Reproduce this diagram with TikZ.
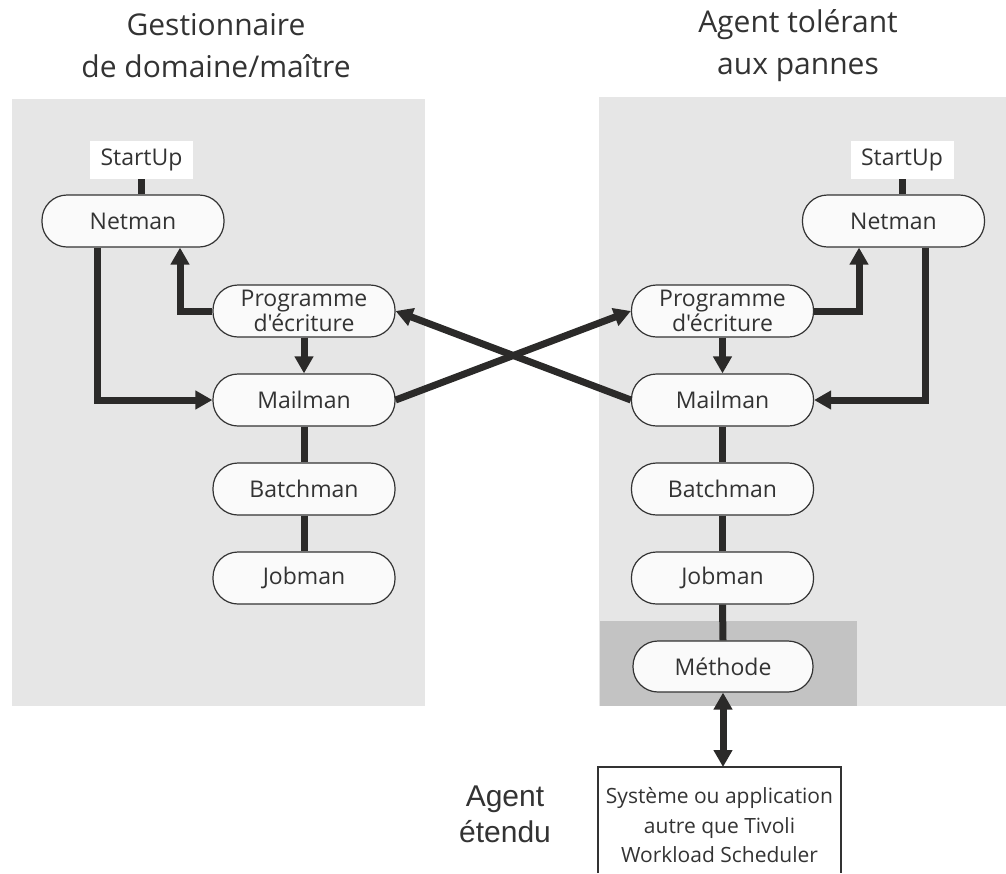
\documentclass[tikz,border=0pt]{standalone}
\usepackage{fontspec}
\setmainfont{Open Sans}[Ligatures=TeXOff]
\newfontfamily\arialfont{Liberation Sans}
\usetikzlibrary{arrows.meta}
\definecolor{panel}{HTML}{E6E6E6}
\definecolor{band}{HTML}{C3C3C3}
\definecolor{ink}{HTML}{2B2A29}
\definecolor{nodeline}{HTML}{333333}
\definecolor{nodefill}{HTML}{FAFAFA}
\definecolor{txt}{HTML}{333333}

\begin{document}
\begin{tikzpicture}[x=1pt,y=-1pt,
  proc/.style={draw=nodeline, line width=1.2pt, fill=nodefill, rounded corners=25pt,
    minimum width=182pt, minimum height=52pt, inner sep=0pt, text=txt,
    font=\fontsize{23}{25}\selectfont, align=center},
  start/.style={fill=white, minimum width=103pt, minimum height=38pt, inner sep=0pt,
    text=txt, font=\fontsize{23}{25}\selectfont},
  link/.style={draw=ink, line width=7pt},
  arrow/.style={link, -{Triangle[length=17pt,width=18pt]}},
  both/.style={link, {Triangle[length=17pt,width=18pt]}-{Triangle[length=17pt,width=18pt]}},
  title/.style={align=center, text=txt, font=\fontsize{30}{42}\selectfont}
]
\useasboundingbox (0,0) rectangle (1006,873);

% panels
\fill[panel] (12,99) rectangle (425,706);
\fill[panel] (599,97) rectangle (1006,706);
\fill[band] (600,621) rectangle (857,706);

% titles
\node[title] (tl) at (216,46) {Gestionnaire\\de domaine/maître};
\node[title] (tr) at (798,46) {Agent tolérant\\aux pannes};

% domain manager / master
\node[start] (LS) at (141.5,160) {StartUp};
\node[proc] (LN) at (133,221) {Netman};
\node[proc] (LP) at (304,311) {Programme\\d'écriture};
\node[proc] (LM) at (304,400) {Mailman};
\node[proc] (LB) at (304,489) {Batchman};
\node[proc] (LJ) at (304,578) {Jobman};

% fault-tolerant agent
\node[start] (RS) at (902,160) {StartUp};
\node[proc] (RN) at (893.5,221) {Netman};
\node[proc] (RP) at (722.5,311) {Programme\\d'écriture};
\node[proc] (RM) at (722.5,400) {Mailman};
\node[proc] (RB) at (722.5,489) {Batchman};
\node[proc] (RJ) at (722.5,578) {Jobman};
\node[proc, minimum width=180pt, minimum height=51pt] (RX) at (723,666.5) {Méthode};

% extended agent
\node[align=center, text=txt, font=\arialfont\fontsize{30}{36}\selectfont] (ext) at (505,814) {Agent\\étendu};
\node[align=center, text=txt, font=\fontsize{21}{29.5}\selectfont] (SYS) at (719.5,825.5)
  {Système ou application\\autre que Tivoli\\Workload Scheduler};
\coordinate (sysnw) at (598,767);
\coordinate (sysne) at (841,767);
\coordinate (syssw) at (598,873);
\coordinate (sysse) at (841,873);
\draw[nodeline, line width=1.2pt] (syssw) -- (sysnw) -- (sysne) -- (sysse);
\coordinate (systop) at (723,767);

% left connectors
\draw[link] (LS.south) -- (LS.south |- LN.north);
\draw[arrow] ([xshift=-36pt]LN.south) |- (LM.west);
\draw[arrow] (LP.west) -| ([xshift=47pt]LN.south);
\draw[arrow] (LP.south) -- (LM.north);
\draw[link] (LM.south) -- (LB.north);
\draw[link] (LB.south) -- (LJ.north);

% right connectors
\draw[link] (RS.south) -- (RS.south |- RN.north);
\draw[arrow] (RP.east) -| ([xshift=-34.5pt]RN.south);
\draw[arrow] ([xshift=31.5pt]RN.south) |- (RM.east);
\draw[arrow] (RP.south) -- (RM.north);
\draw[link] (RM.south) -- (RB.north);
\draw[link] (RB.south) -- (RJ.north);
\draw[link] (RJ.south) -- (RX.north);
\draw[both] (RX.south) -- (systop);

% crossing links
\draw[arrow] (LM.east) -- (RP.west);
\draw[arrow] (RM.west) -- (LP.east);
\end{tikzpicture}
\end{document}
